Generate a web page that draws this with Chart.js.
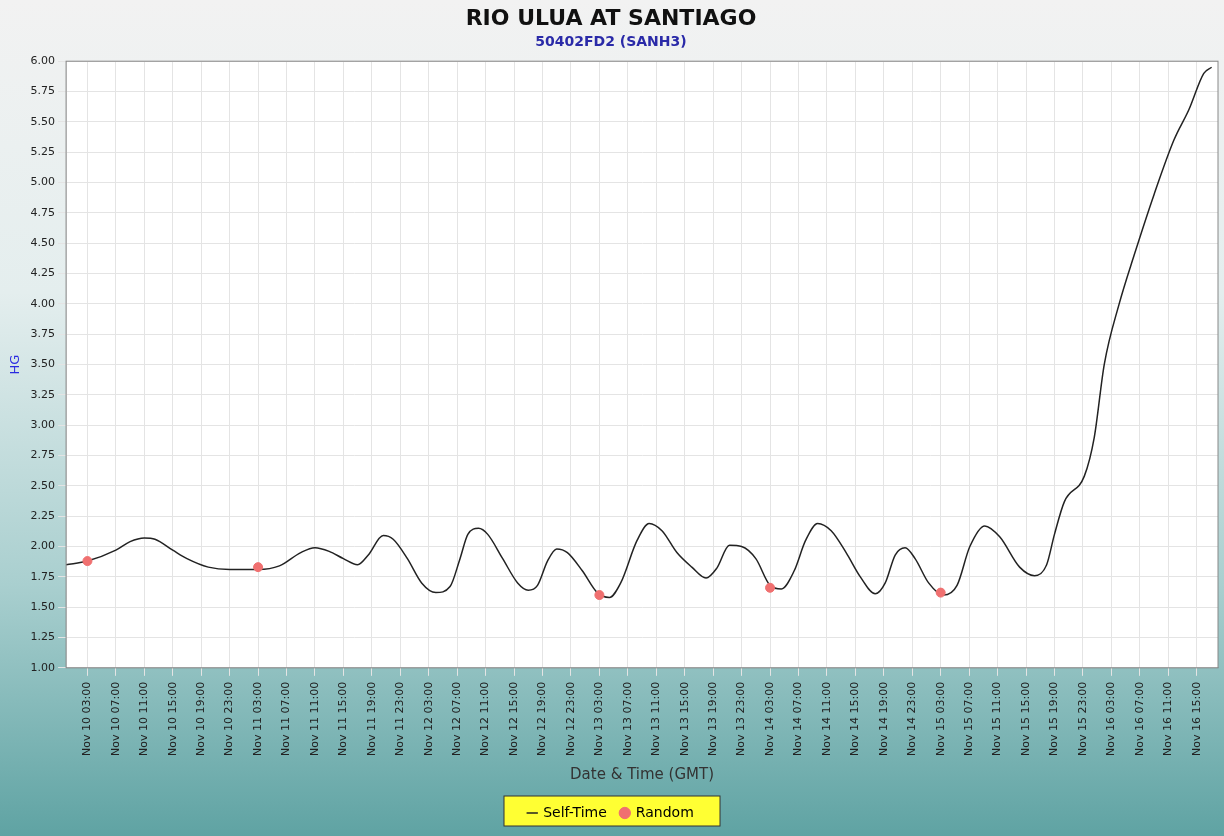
<!DOCTYPE html>
<html><head><meta charset="utf-8">
<script src="https://cdn.jsdelivr.net/npm/chart.js@4"></script>
<style>
html,body{margin:0;padding:0;}
#wrap{width:1224px;height:836px;background:linear-gradient(to bottom,#f2f2f2 0%,#e4eeee 35%,#a9cfcf 70%,#5fa3a3 100%);}
</style></head><body>
<div id="wrap"><canvas id="c" width="1224" height="836"></canvas></div>
<script>
// hours since Nov 10 00:00 GMT
const hours = [0,3,7,9,11,12.5,15,17,20,23,27,30,33,35,37,39,41,42.5,44.6,46,48,50,52,54,55.4,56.5,58,59.3,61.4,63.5,65,66.3,67.7,69,70.5,72.6,74.7,76.4,78,80.3,82,83.8,85.9,88,90,91.5,93.3,95,97,99,100.6,102.4,104,105.7,107.6,109.7,111.7,113.8,115.2,116.6,118,119.4,121.3,123.4,125.3,127.1,129.2,131.3,134.1,136.2,137.9,139,140.4,143.2,144.6,146,148.1,150.2,153,155.8,157.9,160,161.1];
const stage = [1.85,1.88,1.97,2.04,2.07,2.06,1.97,1.90,1.83,1.81,1.81,1.84,1.95,1.99,1.96,1.90,1.85,1.93,2.09,2.06,1.90,1.70,1.62,1.67,1.90,2.10,2.15,2.10,1.90,1.70,1.64,1.68,1.88,1.98,1.95,1.80,1.62,1.58,1.70,2.05,2.19,2.13,1.95,1.83,1.74,1.82,2.01,2.00,1.90,1.68,1.65,1.80,2.05,2.19,2.13,1.95,1.75,1.61,1.70,1.93,1.99,1.90,1.70,1.60,1.68,2.00,2.17,2.08,1.83,1.76,1.85,2.10,2.37,2.58,2.90,3.50,4.00,4.40,4.90,5.35,5.60,5.90,5.95];
const randomHours = [3,27,75,99,123];
const randomVals = [1.88,1.83,1.60,1.66,1.62];

function fmt(h){
  const d = 10 + Math.floor(h/24), hh = Math.round(h%24);
  return 'Nov ' + d + ' ' + String(hh).padStart(2,'0') + ':00';
}

const plotBg = {
  id:'plotBg',
  beforeDraw(chart){
    const {ctx, chartArea:a} = chart;
    ctx.save(); ctx.fillStyle='#fff'; ctx.fillRect(a.left,a.top,a.right-a.left,a.bottom-a.top); ctx.restore();
  },
  afterDraw(chart){
    const {ctx, chartArea:a} = chart;
    ctx.save(); ctx.strokeStyle='#888'; ctx.lineWidth=1; ctx.strokeRect(a.left,a.top,a.right-a.left,a.bottom-a.top); ctx.restore();
  }
};

new Chart(document.getElementById('c'), {
  type:'scatter',
  data:{datasets:[
    {label:'Self-Time', type:'line', data:hours.map((h,i)=>({x:h,y:stage[i]})), borderColor:'#222', borderWidth:1.5, pointRadius:0, cubicInterpolationMode:'monotone', fill:false, order:2},
    {label:'Random', data:randomHours.map((h,i)=>({x:h,y:randomVals[i]})), backgroundColor:'#f07070', borderColor:'#f07070', pointRadius:4.5, pointStyle:'circle', order:1}
  ]},
  options:{
    responsive:false, animation:false,
    layout:{padding:{left:4,right:6,top:0,bottom:6}},
    plugins:{
      title:{display:true, text:'RIO ULUA AT SANTIAGO', color:'#111', font:{family:'DejaVu Sans', size:22, weight:'bold'}, padding:{top:6,bottom:0}},
      subtitle:{display:true, text:'50402FD2 (SANH3)', color:'#2a2aa8', font:{family:'DejaVu Sans', size:14, weight:'bold'}, padding:{top:2,bottom:10}},
      legend:{position:'bottom', labels:{color:'#222', font:{family:'DejaVu Sans', size:14}, usePointStyle:true, boxWidth:8, boxHeight:8, padding:14,
        generateLabels(chart){
          return [
            {text:'Self-Time', fillStyle:'#222', strokeStyle:'#222', lineWidth:1.5, pointStyle:'line', datasetIndex:0},
            {text:'Random', fillStyle:'#f07070', strokeStyle:'#f07070', pointStyle:'circle', datasetIndex:1}
          ];
        }}},
      tooltip:{enabled:false}
    },
    scales:{
      x:{type:'linear', min:0, max:162,
        afterBuildTicks(ax){ const t=[]; for(let h=3;h<=159;h+=4) t.push({value:h}); ax.ticks=t; },
        ticks:{callback:v=>fmt(v), maxRotation:90, minRotation:90, autoSkip:false, color:'#222', font:{family:'DejaVu Sans', size:11}, padding:6},
        grid:{color:'#e4e4e4'},
        title:{display:true, text:'Date & Time (GMT)', color:'#333', font:{family:'DejaVu Sans', size:15}, padding:{top:4,bottom:8}}},
      y:{min:1, max:6,
        ticks:{stepSize:0.25, callback:v=>v.toFixed(2), color:'#222', font:{family:'DejaVu Sans', size:11}},
        grid:{color:'#e4e4e4'},
        title:{display:true, text:'HG', color:'#2a2ae0', font:{family:'DejaVu Sans', size:13}}}
    }
  },
  plugins:[plotBg, {
    id:'legendBox',
    beforeDraw(chart){
      const l = chart.legend; if(!l) return;
      const {ctx} = chart; const w=216, x=(chart.width-w)/2;
      ctx.save(); ctx.fillStyle='#ffff33'; ctx.strokeStyle='#333'; ctx.fillRect(x,l.top+4,w,l.height-8); ctx.strokeRect(x,l.top+4,w,l.height-8); ctx.restore();
    }
  }]
});
</script>
</body></html>
